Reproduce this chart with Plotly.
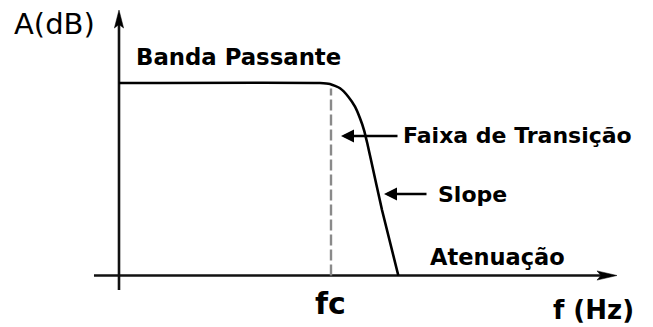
import plotly.graph_objects as go

# ---------------- data (normalized: frequency in units of fc, amplitude in units of passband) ----
freq = [0.0, 0.948, 0.995, 1.0425, 1.0816, 1.1132, 1.1368, 1.1557, 1.1712, 1.1887, 1.2406, 1.3175]
amp = [1.0, 1.0, 0.995, 0.9725, 0.9288, 0.8769, 0.8166, 0.7558, 0.6868, 0.6000, 0.3403, 0.0]
fc = 1.0
fc_line_top = 0.972
x_axis_span = [-0.118, 2.349]
y_axis_span = [-0.0753, 1.379]

y_title = "A(dB)"
x_title = "f (Hz)"
fc_label = "fc"
band_label = "Banda Passante"
trans_label = "Faixa de Transição"
slope_label = "Slope"
atten_label = "Atenuação"

# ---------------- geometry helpers (pixel <-> data) ----------------
W, H = 653, 327
X0PX, SX = 119.0, 212.0     # pixel of x=0, pixels per unit
Y0PX, SY = 275.5, 192.5     # pixel of y=0, pixels per unit


def dx(px):
    return (px - X0PX) / SX


def dy(py):
    return (Y0PX - py) / SY


xr = [dx(0), dx(W)]
yr = [dy(H), dy(0)]

BLACK = "#000000"
FONT_B = "DejaVu Sans"

fig = go.Figure()

# axes lines
ax_len_x, ax_hw_x = 20 / SX, 4.6 / SY
ax_len_y, ax_hw_y = 18 / SY, 4.6 / SX
fig.add_trace(go.Scatter(x=[x_axis_span[0], x_axis_span[1] - ax_len_x * 0.6], y=[0, 0],
                         mode="lines", line=dict(color="#111111", width=2.6), hoverinfo="skip"))
fig.add_trace(go.Scatter(x=[0, 0], y=[y_axis_span[0], y_axis_span[1] - ax_len_y * 0.6],
                         mode="lines", line=dict(color="#111111", width=2.6), hoverinfo="skip"))
# axis arrowheads
tx = x_axis_span[1]
fig.add_trace(go.Scatter(x=[tx, tx - ax_len_x, tx - ax_len_x * 0.8, tx - ax_len_x, tx],
                         y=[0, ax_hw_x, 0, -ax_hw_x, 0], mode="lines", fill="toself",
                         fillcolor=BLACK, line=dict(color=BLACK, width=0.5), hoverinfo="skip"))
ty = y_axis_span[1]
fig.add_trace(go.Scatter(x=[0, ax_hw_y, 0, -ax_hw_y, 0],
                         y=[ty, ty - ax_len_y, ty - ax_len_y * 0.8, ty - ax_len_y, ty], mode="lines",
                         fill="toself", fillcolor=BLACK, line=dict(color=BLACK, width=0.5),
                         hoverinfo="skip"))

# fc dashed line
fig.add_trace(go.Scatter(x=[fc, fc], y=[0, fc_line_top], mode="lines",
                         line=dict(color="#8a8a8a", width=2.4, dash="11px,4px"), hoverinfo="skip"))

# response curve
fig.add_trace(go.Scatter(x=freq, y=amp, mode="lines",
                         line=dict(color=BLACK, width=2.6, shape="spline", smoothing=0.5),
                         hoverinfo="skip"))

annotations = []


def txt(text, px, py, size, bold=True, xanchor="left", yanchor="middle"):
    annotations.append(dict(
        x=dx(px), y=dy(py), xref="x", yref="y", text=f"<b>{text}</b>" if bold else text,
        showarrow=False, xanchor=xanchor, yanchor=yanchor,
        font=dict(family=FONT_B, size=size, color=BLACK)))


def pointer(head_px, tail_px, py):
    annotations.append(dict(
        x=dx(head_px), y=dy(py), ax=dx(tail_px), ay=dy(py), xref="x", yref="y",
        axref="x", ayref="y", text="", showarrow=True, arrowhead=2, arrowsize=1,
        arrowwidth=2.6, arrowcolor=BLACK, standoff=0))


txt(y_title, 12, 24, 29, bold=False)
txt(band_label, 134, 57, 22.8)
txt(trans_label, 401, 135, 22)
txt(slope_label, 436, 194, 22)
txt(atten_label, 428, 257, 22.5)
txt(fc_label, 313, 303, 30)
txt(x_title, 551, 310, 26)

pointer(341, 399, 136)
pointer(384, 428, 194)

fig.update_layout(
    width=W, height=H, margin=dict(l=0, r=0, t=0, b=0),
    paper_bgcolor="white", plot_bgcolor="white", showlegend=False,
    xaxis=dict(range=xr, visible=False, fixedrange=True),
    yaxis=dict(range=yr, visible=False, fixedrange=True),
    annotations=annotations,
)

fig.write_html("out.html", config={"displayModeBar": False},
               post_script="document.body.style.margin='0';document.body.style.overflow='hidden';")
